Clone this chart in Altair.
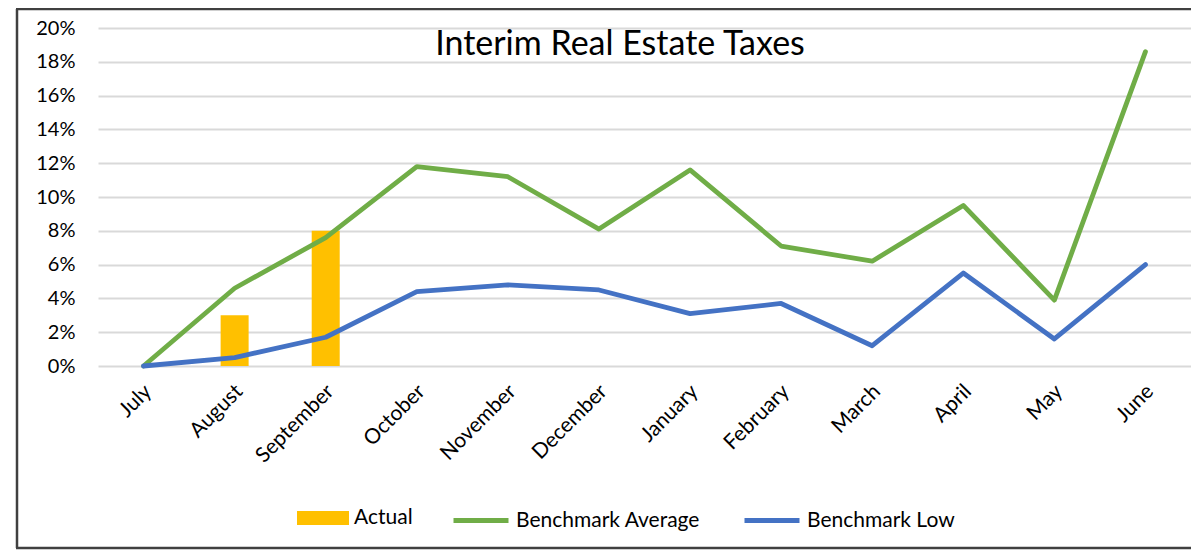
import altair as alt
import pandas as pd

months = ["July", "August", "September", "October", "November", "December",
          "January", "February", "March", "April", "May", "June"]
actual = [None, 0.030, 0.080, None, None, None, None, None, None, None, None, None]
bench_avg = [0.000, 0.046, 0.076, 0.118, 0.112, 0.081, 0.116, 0.071, 0.062, 0.095, 0.039, 0.186]
bench_low = [0.000, 0.005, 0.017, 0.044, 0.048, 0.045, 0.031, 0.037, 0.012, 0.055, 0.016, 0.060]
y_ticks = [0.0, 0.02, 0.04, 0.06, 0.08, 0.10, 0.12, 0.14, 0.16, 0.18, 0.20]
title_text = "Interim Real Estate Taxes"

FONT = "Lato"
W, H = 1093, 338

df = pd.DataFrame({
    "month": months,
    "Actual": actual,
    "Benchmark Average": bench_avg,
    "Benchmark Low": bench_low,
})

x_enc = alt.X(
    "month:N", sort=months,
    scale=alt.Scale(paddingInner=0, paddingOuter=0),
    axis=alt.Axis(title=None, labelAngle=-45, labelAlign="right", labelBaseline="middle",
                  labelFont=FONT, labelFontSize=21, labelColor="#000000",
                  labelPadding=22, labelOffset=5, domain=False, ticks=False, grid=False),
)
y_scale = alt.Scale(domain=[0, 0.20], nice=False)
y_axis = alt.Axis(title=None, values=y_ticks, format=".0%", labelFont=FONT, labelFontSize=20,
                  labelColor="#000000", labelPadding=23, domain=False, ticks=False,
                  grid=True, gridColor="#D9D9D9", gridWidth=2)

bars = alt.Chart(df).transform_filter("datum.Actual != null").transform_calculate(
    series="'Actual'"
).mark_bar(size=28, color="#FFC000").encode(
    x=x_enc,
    y=alt.Y("Actual:Q", scale=y_scale, axis=y_axis),
    color=alt.Color("series:N", scale=alt.Scale(domain=["Actual"], range=["#FFC000"]),
                    legend=alt.Legend(title=None, orient="none", direction="horizontal",
                                      legendX=199, legendY=464, padding=0,
                                      symbolType="M-1,-0.27H1V0.27H-1Z", symbolSize=2704,
                                      symbolStrokeWidth=0, labelFont=FONT, labelFontSize=21,
                                      labelColor="#000000", labelOffset=5, labelLimit=0)),
)

lines = alt.Chart(df).transform_fold(
    ["Benchmark Average", "Benchmark Low"], as_=["series", "value"]
).mark_line(strokeWidth=4.8, strokeCap="round", strokeJoin="round").encode(
    x=x_enc,
    y=alt.Y("value:Q", scale=y_scale, axis=y_axis),
    color=alt.Color("series:N",
                    scale=alt.Scale(domain=["Benchmark Average", "Benchmark Low"],
                                    range=["#70AD47", "#4472C4"]),
                    legend=alt.Legend(title=None, orient="none", direction="horizontal",
                                      legendX=353, legendY=462.5, padding=0,
                                      symbolType="stroke", symbolSize=3025,
                                      symbolStrokeWidth=5, columnPadding=33,
                                      labelFont=FONT, labelFontSize=21, labelLimit=0,
                                      labelColor="#000000", labelOffset=5)),
)

title = alt.Chart(alt.Data(values=[{"t": title_text}])).mark_text(
    font=FONT, fontSize=34, align="center", baseline="middle", color="#000000"
).encode(text="t:N", x=alt.value(522), y=alt.value(17))

frame_style = dict(stroke="#404040", strokeWidth=2.5)
frame_left = alt.Chart(alt.Data(values=[{}])).mark_rule(**frame_style).encode(
    x=alt.value(-81), y=alt.value(-19), y2=alt.value(520))
frame_top = alt.Chart(alt.Data(values=[{}])).mark_rule(**frame_style).encode(
    x=alt.value(-82), x2=alt.value(W + 10), y=alt.value(-19))
frame_bottom = alt.Chart(alt.Data(values=[{}])).mark_rule(**frame_style).encode(
    x=alt.value(-82), x2=alt.value(W + 10), y=alt.value(520))

chart = alt.layer(bars, lines, title, frame_left, frame_top, frame_bottom).resolve_scale(
    color="independent"
).properties(
    width=W, height=H,
    autosize=alt.AutoSizeParams(type="none"),
    padding={"left": 90, "top": 20, "right": 0, "bottom": 184},
    background="white",
).configure_view(stroke=None)

chart.save("out.html", embed_options={"renderer": "svg", "actions": False})
